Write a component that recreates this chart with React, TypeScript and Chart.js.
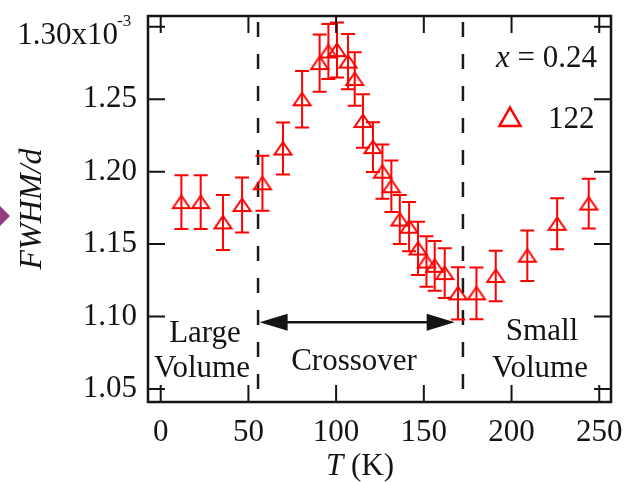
import React, { useEffect, useRef } from 'react';
import { Chart, registerables } from 'chart.js';

Chart.register(...registerables);

// Peak width (FWHM/d, in units of 1e-3) versus temperature for the 122 reflection, x = 0.24
const temperatures = [11.8, 22.8, 35.5, 46.4, 58.0, 69.7, 80.6, 90.6, 95.6, 100.5, 106.8, 110.6, 115.3, 121.0, 126.4, 131.5, 136.3, 141.6, 146.7, 151.5, 156.2, 161.9, 169.5, 180.0, 191.0, 209.0, 226.0, 244.0];
const fwhm = [1.179, 1.179, 1.165, 1.177, 1.192, 1.216, 1.250, 1.275, 1.283, 1.284, 1.276, 1.264, 1.235, 1.217, 1.200, 1.190, 1.167, 1.162, 1.147, 1.138, 1.135, 1.130, 1.116, 1.116, 1.128, 1.142, 1.164, 1.178];
const fwhmErr = [0.0186, 0.0186, 0.019, 0.019, 0.019, 0.018, 0.0195, 0.0198, 0.019, 0.019, 0.019, 0.0184, 0.0184, 0.0172, 0.0187, 0.0178, 0.017, 0.017, 0.0184, 0.0175, 0.0172, 0.0172, 0.018, 0.0178, 0.0174, 0.0174, 0.0176, 0.0172];

const xTicks = [0, 50, 100, 150, 200, 250];
const yTicks = [1.05, 1.10, 1.15, 1.20, 1.25, 1.30];
const yTopExponent = '-3';

// Temperatures separating the large-volume, crossover and small-volume regimes
const regionBounds = [55.5, 172.3];
const crossoverArrowFrom = 56.4;
const crossoverArrowTo = 167.6;
const crossoverArrowLevel = 1.096;

const seriesLabel = '122';
const compositionLabel = '0.24';

const serif = '"Liberation Serif", "Times New Roman", serif';
const ink = '#141414';
const red = '#ff0000';

// Open triangle marker, slightly flattened
function makeTriangleMarker(): HTMLCanvasElement {
  const c = document.createElement('canvas');
  c.width = 22;
  c.height = 18;
  const g = c.getContext('2d')!;
  g.strokeStyle = red;
  g.lineWidth = 2;
  g.lineJoin = 'miter';
  g.beginPath();
  g.moveTo(11, 2.5);
  g.lineTo(19.5, 15);
  g.lineTo(2.5, 15);
  g.closePath();
  g.stroke();
  return c;
}

function drawMixed(ctx: CanvasRenderingContext2D, parts: { text: string; italic: boolean }[], size: number, x: number, y: number, align: 'left' | 'center' | 'right') {
  const widths = parts.map((p) => {
    ctx.font = `${p.italic ? 'italic ' : ''}${size}px ${serif}`;
    return ctx.measureText(p.text).width;
  });
  const total = widths.reduce((s, w) => s + w, 0);
  let cx = align === 'left' ? x : align === 'center' ? x - total / 2 : x - total;
  ctx.textAlign = 'left';
  parts.forEach((p, i) => {
    ctx.font = `${p.italic ? 'italic ' : ''}${size}px ${serif}`;
    ctx.fillText(p.text, cx, y);
    cx += widths[i];
  });
}

const decorPlugin = {
  id: 'decor',
  beforeDatasetsDraw(chart: any) {
    const { ctx, chartArea: a, scales } = chart;
    const xs = scales.x;
    const ys = scales.y;
    ctx.save();

    // regime boundaries
    ctx.strokeStyle = '#1a1a1a';
    ctx.lineWidth = 2.5;
    ctx.setLineDash([15, 17]);
    ctx.lineDashOffset = -6;
    regionBounds.forEach((t) => {
      const px = xs.getPixelForValue(t);
      ctx.beginPath();
      ctx.moveTo(px, a.top);
      ctx.lineTo(px, a.bottom);
      ctx.stroke();
    });
    ctx.setLineDash([]);

    // double-headed arrow across the crossover regime
    const ay = ys.getPixelForValue(crossoverArrowLevel);
    const x0 = xs.getPixelForValue(crossoverArrowFrom);
    const x1 = xs.getPixelForValue(crossoverArrowTo);
    ctx.strokeStyle = ink;
    ctx.fillStyle = ink;
    ctx.lineWidth = 2.5;
    ctx.beginPath();
    ctx.moveTo(x0 + 20, ay);
    ctx.lineTo(x1 - 20, ay);
    ctx.stroke();
    ctx.beginPath();
    ctx.moveTo(x0, ay);
    ctx.lineTo(x0 + 28, ay - 8.5);
    ctx.lineTo(x0 + 28, ay + 8.5);
    ctx.closePath();
    ctx.fill();
    ctx.beginPath();
    ctx.moveTo(x1, ay);
    ctx.lineTo(x1 - 28, ay - 8.5);
    ctx.lineTo(x1 - 28, ay + 8.5);
    ctx.closePath();
    ctx.fill();

    // error bars
    ctx.strokeStyle = red;
    ctx.lineWidth = 2;
    temperatures.forEach((t, i) => {
      const px = xs.getPixelForValue(t);
      const top = ys.getPixelForValue(fwhm[i] + fwhmErr[i]);
      const bot = ys.getPixelForValue(fwhm[i] - fwhmErr[i]);
      ctx.beginPath();
      ctx.moveTo(px, top);
      ctx.lineTo(px, bot);
      ctx.moveTo(px - 7, top);
      ctx.lineTo(px + 7, top);
      ctx.moveTo(px - 7, bot);
      ctx.lineTo(px + 7, bot);
      ctx.stroke();
    });
    ctx.restore();
  },
  afterDraw(chart: any) {
    const { ctx, chartArea: a, scales } = chart;
    const xs = scales.x;
    const ys = scales.y;
    ctx.save();

    // frame
    ctx.strokeStyle = ink;
    ctx.lineWidth = 2.5;
    ctx.strokeRect(a.left, a.top, a.right - a.left, a.bottom - a.top);

    // inward ticks on all four sides
    ctx.lineWidth = 2;
    const tl = 17;
    xs.ticks.forEach((tk: any) => {
      const px = xs.getPixelForValue(tk.value);
      ctx.beginPath();
      ctx.moveTo(px, a.bottom);
      ctx.lineTo(px, a.bottom - tl);
      ctx.moveTo(px, a.top);
      ctx.lineTo(px, a.top + tl);
      ctx.stroke();
    });
    ys.ticks.forEach((tk: any) => {
      const py = ys.getPixelForValue(tk.value);
      ctx.beginPath();
      ctx.moveTo(a.left, py);
      ctx.lineTo(a.left + tl, py);
      ctx.moveTo(a.right, py);
      ctx.lineTo(a.right - tl, py);
      ctx.stroke();
    });

    ctx.fillStyle = ink;
    ctx.textBaseline = 'alphabetic';

    // top y label with exponent
    const topPy = ys.getPixelForValue(yTicks[yTicks.length - 1]);
    ctx.font = `31px ${serif}`;
    ctx.textAlign = 'right';
    ctx.fillText(yTicks[yTicks.length - 1].toFixed(2) + 'x10', 118, topPy + 17);
    ctx.font = `17px ${serif}`;
    ctx.textAlign = 'left';
    ctx.fillText(yTopExponent, 117, topPy - 1);

    // regime labels
    ctx.font = `31px ${serif}`;
    ctx.textAlign = 'center';
    ctx.fillText('Large', 205, 342);
    ctx.fillText('Volume', 202, 377);
    ctx.fillText('Crossover', 354, 370);
    ctx.fillText('Small', 542, 340);
    ctx.fillText('Volume', 540, 377);

    // legend
    drawMixed(ctx, [{ text: 'x', italic: true }, { text: ' = ' + compositionLabel, italic: false }], 31, 597, 67, 'right');
    ctx.strokeStyle = red;
    ctx.lineWidth = 2.5;
    ctx.beginPath();
    ctx.moveTo(510, 107.5);
    ctx.lineTo(520.5, 126);
    ctx.lineTo(499.5, 126);
    ctx.closePath();
    ctx.stroke();
    ctx.fillStyle = ink;
    ctx.font = `31px ${serif}`;
    ctx.textAlign = 'left';
    ctx.fillText(seriesLabel, 548, 128);

    // axis titles
    drawMixed(ctx, [{ text: 'T', italic: true }, { text: ' (K)', italic: false }], 31, 360, 475, 'center');
    ctx.save();
    ctx.translate(41, (a.top + a.bottom) / 2);
    ctx.rotate(-Math.PI / 2);
    ctx.font = `italic 32px ${serif}`;
    ctx.textAlign = 'center';
    ctx.fillText('FWHM/d', 0, 0);
    ctx.restore();

    // pointer at the left margin
    ctx.fillStyle = '#953c80';
    ctx.beginPath();
    ctx.moveTo(0, 206);
    ctx.lineTo(10, 216);
    ctx.lineTo(0, 226);
    ctx.closePath();
    ctx.fill();

    ctx.restore();
  },
};

export default function App() {
  const canvasRef = useRef<HTMLCanvasElement>(null);

  useEffect(() => {
    document.body.style.margin = '0';
    const marker = makeTriangleMarker();
    const chart = new Chart(canvasRef.current!, {
      type: 'scatter',
      data: {
        datasets: [
          {
            label: seriesLabel,
            data: temperatures.map((t, i) => ({ x: t, y: fwhm[i] })),
            pointStyle: marker as any,
            pointRadius: 10,
            borderColor: red,
            backgroundColor: 'rgba(0,0,0,0)',
            showLine: false,
          },
        ],
      },
      options: {
        animation: false,
        responsive: false,
        devicePixelRatio: 1,
        events: [],
        layout: { padding: { left: 0, top: 16, right: 16, bottom: 0 } },
        plugins: { legend: { display: false }, tooltip: { enabled: false } },
        scales: {
          x: {
            type: 'linear',
            min: -7.24,
            max: 256.7,
            grid: { display: false, drawTicks: false },
            border: { display: false },
            afterBuildTicks: (scale: any) => {
              scale.ticks = xTicks.map((v) => ({ value: v }));
            },
            afterFit: (scale: any) => {
              scale.height = 80;
              scale.paddingLeft = 0;
              scale.paddingRight = 0;
              scale.paddingTop = 0;
              scale.paddingBottom = 0;
            },
            ticks: {
              padding: 12,
              color: ink,
              font: { family: serif, size: 31 },
              maxRotation: 0,
              autoSkip: false,
              callback: (v: any) => String(v),
            },
          },
          y: {
            type: 'linear',
            min: 1.041,
            max: 1.3075,
            grid: { display: false, drawTicks: false },
            border: { display: false },
            afterBuildTicks: (scale: any) => {
              scale.ticks = yTicks.map((v) => ({ value: v }));
            },
            afterFit: (scale: any) => {
              scale.width = 148;
              scale.paddingLeft = 0;
              scale.paddingRight = 0;
              scale.paddingTop = 0;
              scale.paddingBottom = 0;
            },
            ticks: {
              padding: 11,
              color: ink,
              font: { family: serif, size: 31 },
              autoSkip: false,
              callback: (v: any, i: number) => (i === yTicks.length - 1 ? '' : Number(v).toFixed(2)),
            },
          },
        },
      },
      plugins: [decorPlugin],
    });
    return () => chart.destroy();
  }, []);

  return (
    <div style={{ width: 627, height: 482 }}>
      <canvas ref={canvasRef} width={627} height={482} style={{ display: 'block' }} />
    </div>
  );
}
